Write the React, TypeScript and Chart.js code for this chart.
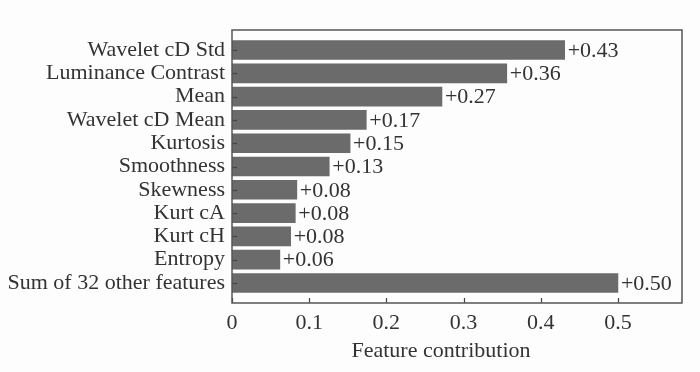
import React, { useEffect, useRef } from "react";
import { Chart, registerables } from "chart.js";

Chart.register(...registerables);

const categories: string[] = [
  "Wavelet cD Std",
  "Luminance Contrast",
  "Mean",
  "Wavelet cD Mean",
  "Kurtosis",
  "Smoothness",
  "Skewness",
  "Kurt cA",
  "Kurt cH",
  "Entropy",
  "Sum of 32 other features",
];
const contributions: number[] = [0.431, 0.356, 0.272, 0.174, 0.153, 0.126, 0.084, 0.082, 0.076, 0.062, 0.5];
const valueLabels: string[] = ["+0.43", "+0.36", "+0.27", "+0.17", "+0.15", "+0.13", "+0.08", "+0.08", "+0.08", "+0.06", "+0.50"];
const xTicks: number[] = [0, 0.1, 0.2, 0.3, 0.4, 0.5];
const xTitle = "Feature contribution";

const FONT = "'Liberation Serif', 'Times New Roman', serif";
const FS = 22;

const framePlugin = {
  id: "frame",
  afterDraw(chart: any) {
    const { ctx, chartArea: a, scales } = chart;
    const xs = scales.x;
    const ys = scales.y;
    ctx.save();
    ctx.strokeStyle = "#444";
    ctx.lineWidth = 1.2;
    xTicks.forEach((t) => {
      const px = Math.round(xs.getPixelForValue(t)) + 0.5;
      ctx.beginPath();
      ctx.moveTo(px, a.bottom);
      ctx.lineTo(px, a.bottom - 5);
      ctx.stroke();
    });
    categories.forEach((_, i) => {
      const py = Math.round(ys.getPixelForValue(i)) + 0.5;
      ctx.beginPath();
      ctx.moveTo(a.left, py);
      ctx.lineTo(a.left + 5, py);
      ctx.stroke();
    });
    ctx.fillStyle = "#333";
    ctx.font = `${FS}px ${FONT}`;
    ctx.textBaseline = "middle";
    ctx.textAlign = "left";
    contributions.forEach((v, i) => {
      ctx.fillText(valueLabels[i], xs.getPixelForValue(v) + 3, ys.getPixelForValue(i) + 1);
    });
    ctx.textAlign = "center";
    xTicks.forEach((t) => {
      ctx.fillText(String(t), xs.getPixelForValue(t), a.bottom + 20);
    });
    ctx.fillText(xTitle, a.left + 209, a.bottom + 48);
    ctx.strokeStyle = "#555";
    ctx.lineWidth = 1.5;
    ctx.strokeRect(a.left, a.top, a.right - a.left, a.bottom - a.top);
    ctx.restore();
  },
};

export default function App() {
  const ref = useRef<HTMLCanvasElement | null>(null);
  useEffect(() => {
    if (!ref.current) return;
    const chart = new Chart(ref.current, {
      type: "bar",
      data: {
        datasets: [
          {
            data: contributions.map((v, i) => ({ x: v, y: i })),
            backgroundColor: "#6b6b6b",
            borderWidth: 0,
            barThickness: 19,
          },
        ],
      },
      options: {
        indexAxis: "y",
        animation: false,
        responsive: false,
        maintainAspectRatio: false,
        layout: { padding: { top: 30, right: 18, left: 0, bottom: 0 } },
        plugins: { legend: { display: false }, tooltip: { enabled: false } },
        scales: {
          x: {
            type: "linear",
            min: 0,
            max: 0.583,
            offset: false,
            afterFit: (s: any) => {
              s.height = 69;
            },
            grid: { display: false, drawTicks: false },
            border: { display: false },
            ticks: { display: false },
          },
          y: {
            type: "linear",
            reverse: true,
            offset: false,
            min: -0.86,
            max: 10.86,
            afterBuildTicks: (s: any) => {
              s.ticks = categories.map((_, i) => ({ value: i }));
            },
            afterFit: (s: any) => {
              s.width = 232;
            },
            grid: { display: false, drawTicks: false, offset: false },
            border: { display: false },
            ticks: {
              color: "#333",
              font: { family: FONT, size: FS },
              padding: 7,
              autoSkip: false,
              callback: (v: any) => categories[Math.round(Number(v))] ?? "",
            },
          },
        },
      },
      plugins: [framePlugin],
    });
    return () => chart.destroy();
  }, []);
  return (
    <div style={{ position: "fixed", left: 0, top: 0, width: 700, height: 372, background: "#fdfdfd" }}>
      <canvas ref={ref} width={700} height={372} style={{ width: 700, height: 372, display: "block" }} />
    </div>
  );
}
